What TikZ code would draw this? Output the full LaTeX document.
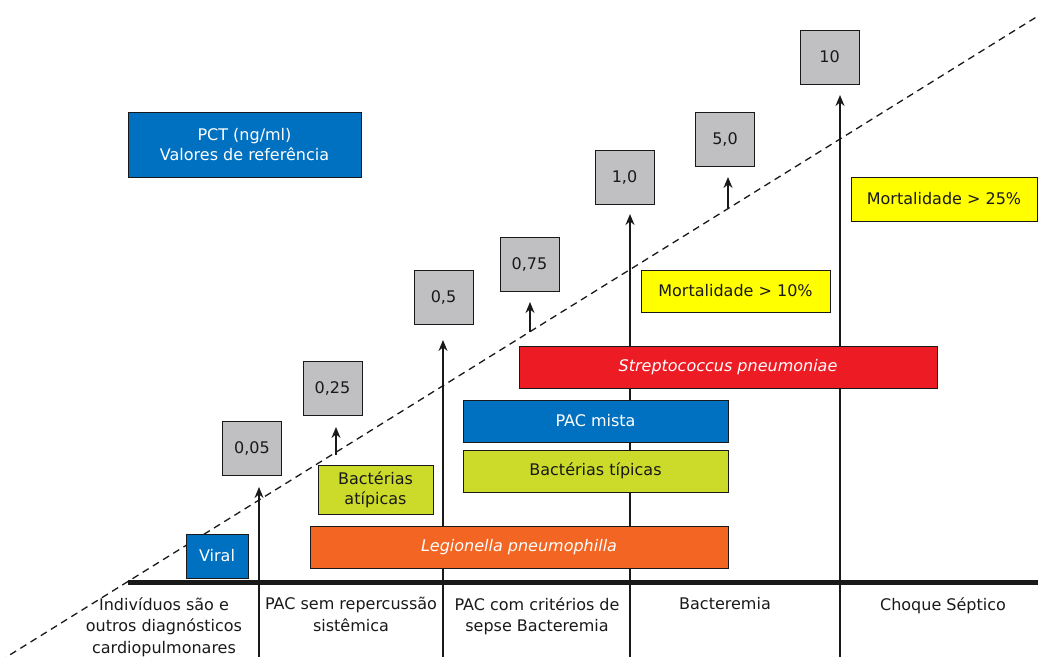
\documentclass[tikz,border=0pt]{standalone}
\usepackage{fontspec}
\setmainfont{DejaVu Sans}
\usetikzlibrary{arrows.meta}
\definecolor{gbox}{RGB}{192,192,194}
\definecolor{bl}{RGB}{0,112,192}
\definecolor{rd}{RGB}{237,28,36}
\definecolor{org}{RGB}{242,101,34}
\definecolor{lime}{RGB}{204,219,42}
\definecolor{yel}{RGB}{255,255,0}
\definecolor{txt}{RGB}{25,25,25}
\tikzset{
  bx/.style={draw=txt, line width=1pt, inner sep=0pt, align=center, font=\fontsize{16}{20}\selectfont},
  val/.style={bx, fill=gbox, text=txt, minimum width=59pt, minimum height=54pt},
  wt/.style={text=white},
  arr/.style={line width=1.4pt, draw=txt, -{Stealth[length=11pt,width=9pt]}},
  lbl/.style={align=center, anchor=north, text=txt, font=\fontsize{16}{21.5}\selectfont, inner sep=0pt}
}
\begin{document}
\begin{tikzpicture}[x=1pt,y=-1pt]
\useasboundingbox (0,0) rectangle (1038,656);
\clip (0,0) rectangle (1038,656);
% value boxes
\node[val] (v1) at (252,448) {0,05};
\node[val] (v2) at (332.5,388.5) {0,25};
\node[val] (v3) at (443.5,297) {0,5};
\node[val] (v4) at (529.5,264) {0,75};
\node[val] (v5) at (624.5,177) {1,0};
\node[val] (v6) at (725,139) {5,0};
\node[val] (v7) at (829.5,57) {10};
% coordinates
\coordinate (b1) at (259,660);
\coordinate (b3) at (443,660);
\coordinate (b5) at (630,660);
\coordinate (b7) at (840,660);
\coordinate (s2) at (336,455);
\coordinate (s4) at (530,332);
\coordinate (s6) at (728,208);
\coordinate (d0) at (0,661);
\coordinate (d1) at (1038,16);
\coordinate (g0) at (128,582);
\coordinate (g1) at (1040,582);
% dashed trend line
\draw[line width=1.3pt, dash pattern=on 7pt off 5pt, txt] (d0) -- (d1);
% long arrows
\draw[arr] (b1) -- (259,487);
\draw[arr] (b3) -- (443,340);
\draw[arr] (b5) -- (630,214);
\draw[arr] (b7) -- (840,95);
% small arrows
\draw[arr] (s2) -- (336,427);
\draw[arr] (s4) -- (530,302);
\draw[arr] (s6) -- (728,177);
% colored boxes
\node[bx, fill=bl, wt, minimum width=233pt, minimum height=65pt] (pct) at (244.5,144.5) {PCT (ng/ml)\\Valores de referência};
\node[bx, fill=bl, wt, minimum width=62pt, minimum height=44pt] (viral) at (217,556) {Viral};
\node[bx, fill=lime, text=txt, minimum width=115pt, minimum height=49pt] (atip) at (375.5,489.5) {Bactérias\\atípicas};
\node[bx, fill=org, wt, minimum width=418pt, minimum height=42pt, font=\fontsize{16}{20}\selectfont\itshape] (leg) at (519,547) {Legionella pneumophilla};
\node[bx, fill=lime, text=txt, minimum width=265pt, minimum height=42pt] (tip) at (595.5,471) {Bactérias típicas};
\node[bx, fill=bl, wt, minimum width=265pt, minimum height=42pt] (mista) at (595.5,421) {PAC mista};
\node[bx, fill=rd, wt, minimum width=418pt, minimum height=42pt, font=\fontsize{16}{20}\selectfont\itshape] (strep) at (728,367) {Streptococcus pneumoniae};
\node[bx, fill=yel, text=txt, minimum width=189pt, minimum height=42pt] (m10) at (735.5,291) {Mortalidade > 10\%};
\node[bx, fill=yel, text=txt, minimum width=186pt, minimum height=44pt] (m25) at (944,199) {Mortalidade > 25\%};
% baseline
\draw[line width=5pt, txt] (g0) -- (g1);
% column labels
\node[lbl] (c1) at (164,597) {Indivíduos são e\\outros diagnósticos\\cardiopulmonares};
\node[lbl] (c2) at (351,597) {PAC sem repercussão\\sistêmica};
\node[lbl] (c3) at (537,597) {PAC com critérios de\\sepse Bacteremia};
\node[lbl] (c4) at (725,597) {Bacteremia};
\node[lbl] (c5) at (943,597) {Choque Séptico};
\end{tikzpicture}
\end{document}
